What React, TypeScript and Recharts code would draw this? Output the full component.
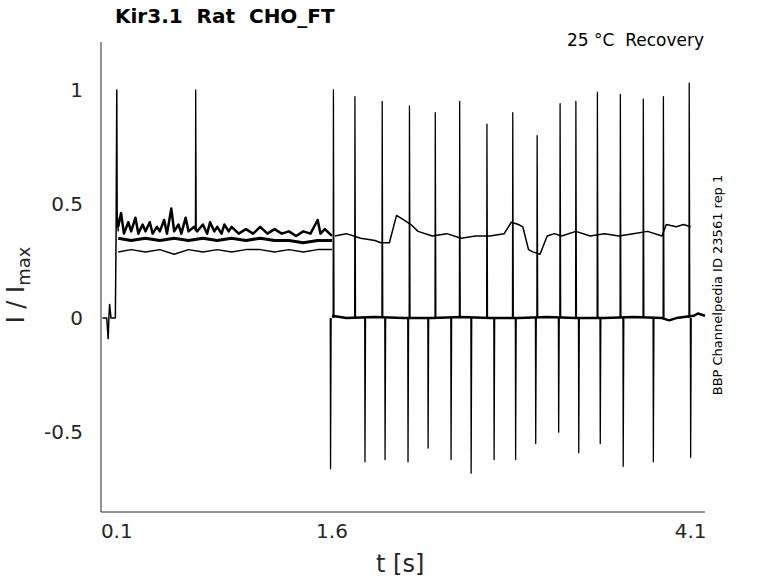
import React from "react";
import { LineChart, Line, XAxis, YAxis } from "recharts";

const xTicks = [0.1, 1.6, 4.1];
const yTicks = [-0.5, 0, 0.5, 1];

const upSpikeT = [0.65, 1.61, 1.76, 1.95, 2.14, 2.32, 2.49, 2.68, 2.86, 3.03, 3.19, 3.30, 3.45, 3.61, 3.77, 3.91, 4.09];
const upSpikeV = [1.0, 1.0, 0.97, 0.95, 0.93, 0.9, 0.95, 0.85, 0.9, 0.8, 0.94, 0.95, 0.99, 0.98, 0.96, 0.97, 1.03];
const upSpikeBase = [0.38, 0, 0, 0, 0, 0, 0, 0, 0, 0, 0, 0, 0, 0, 0, 0, 0];
const downSpikeT = [1.59, 1.83, 1.97, 2.13, 2.27, 2.43, 2.57, 2.73, 2.88, 3.02, 3.18, 3.32, 3.47, 3.63, 3.84, 4.10];
const downSpikeV = [-0.66, -0.63, -0.62, -0.63, -0.57, -0.62, -0.68, -0.62, -0.62, -0.55, -0.5, -0.59, -0.55, -0.65, -0.63, -0.61];
const downSpikeBase = [0, 0, 0, 0, 0, 0, 0, 0, 0, 0, 0, 0, 0, 0, 0, 0];

const startT = [0.0, 0.03, 0.04, 0.045, 0.05, 0.06, 0.09, 0.095, 0.1, 0.103, 0.106, 0.11];
const startV = [0.0, 0.0, -0.09, 0.0, 0.06, 0.0, 0.0, 0.36, 1.0, 0.4, 0.44, 0.38];

const upperT = [0.11, 0.13, 0.15, 0.18, 0.2, 0.23, 0.25, 0.28, 0.3, 0.33, 0.35, 0.38, 0.4, 0.43, 0.45, 0.48, 0.5, 0.53, 0.55, 0.58, 0.6, 0.64, 0.66, 0.7, 0.73, 0.75, 0.78, 0.8, 0.83, 0.85, 0.88, 0.9, 0.95, 1.0, 1.05, 1.1, 1.15, 1.2, 1.25, 1.3, 1.35, 1.4, 1.45, 1.5, 1.52, 1.55, 1.6];
const upperV = [0.4, 0.46, 0.37, 0.42, 0.38, 0.44, 0.37, 0.41, 0.38, 0.42, 0.37, 0.4, 0.38, 0.43, 0.37, 0.48, 0.38, 0.41, 0.37, 0.44, 0.38, 0.4, 0.38, 0.41, 0.37, 0.42, 0.38, 0.4, 0.37, 0.41, 0.38, 0.4, 0.37, 0.39, 0.37, 0.4, 0.37, 0.39, 0.37, 0.38, 0.36, 0.38, 0.37, 0.43, 0.37, 0.39, 0.36];
const midT = [0.11, 0.2, 0.3, 0.4, 0.5, 0.6, 0.7, 0.8, 0.9, 1.0, 1.1, 1.2, 1.3, 1.4, 1.5, 1.6];
const midV = [0.35, 0.34, 0.35, 0.34, 0.35, 0.34, 0.35, 0.34, 0.35, 0.34, 0.35, 0.34, 0.34, 0.33, 0.34, 0.34];
const lowT = [0.11, 0.2, 0.3, 0.4, 0.5, 0.6, 0.7, 0.8, 0.9, 1.0, 1.1, 1.2, 1.3, 1.4, 1.5, 1.6];
const lowV = [0.29, 0.3, 0.29, 0.3, 0.28, 0.3, 0.29, 0.3, 0.29, 0.3, 0.3, 0.29, 0.3, 0.29, 0.3, 0.3];

const postT = [1.62, 1.7, 1.8, 1.9, 1.94, 2.0, 2.05, 2.1, 2.15, 2.2, 2.3, 2.4, 2.5, 2.6, 2.7, 2.8, 2.85, 2.9, 2.93, 2.97, 3.0, 3.05, 3.1, 3.15, 3.2, 3.3, 3.4, 3.5, 3.6, 3.7, 3.8, 3.9, 3.93, 4.0, 4.05, 4.1];
const postV = [0.36, 0.37, 0.35, 0.34, 0.33, 0.33, 0.45, 0.43, 0.41, 0.38, 0.36, 0.37, 0.35, 0.36, 0.36, 0.37, 0.42, 0.41, 0.4, 0.3, 0.29, 0.28, 0.36, 0.37, 0.36, 0.38, 0.36, 0.37, 0.36, 0.37, 0.38, 0.36, 0.41, 0.4, 0.41, 0.4];

const baseT = [1.6, 1.7, 1.9, 2.1, 2.3, 2.5, 2.7, 2.9, 3.1, 3.3, 3.5, 3.7, 3.9, 3.95, 4.0, 4.12, 4.15, 4.2];
const baseV = [0.01, 0.0, 0.005, 0.0, 0.0, 0.005, 0.0, 0.0, 0.005, 0.0, 0.0, 0.005, 0.0, -0.01, 0.0, 0.01, 0.02, 0.01];

function zip(ts: number[], vs: number[]) {
  return ts.map((t, i) => ({ t, v: vs[i] }));
}
function spikes(ts: number[], vs: number[], bs: number[]) {
  const out: { t: number; v: number }[] = [];
  ts.forEach((t, i) => {
    out.push({ t: t - 0.002, v: bs[i] });
    out.push({ t, v: vs[i] });
    out.push({ t: t + 0.004, v: bs[i] });
    out.push({ t: t + 0.005, v: null as any });
  });
  return out;
}

const series = [
  { d: zip(startT, startV), w: 1.5 },
  { d: zip(upperT, upperV), w: 2.5 },
  { d: zip(midT, midV), w: 3 },
  { d: zip(lowT, lowV), w: 1.5 },
  { d: zip(postT, postV), w: 1.5 },
  { d: zip(baseT, baseV), w: 2.5 },
  { d: spikes(upSpikeT, upSpikeV, upSpikeBase), w: 1.3 },
  { d: spikes(downSpikeT, downSpikeV, downSpikeBase), w: 1.3 },
];

const font = "DejaVu Sans, sans-serif";

export default function App() {
  return (
    <div style={{ position: "absolute", left: 0, top: 0, width: 778, height: 583, background: "#fff", fontFamily: font }}>
      <LineChart width={778} height={583} margin={{ top: 42, right: 73, left: 41, bottom: 31 }}>
        <XAxis
          dataKey="t"
          type="number"
          domain={[-0.01, 4.2]}
          ticks={xTicks}
          allowDuplicatedCategory={false}
          tickLine={false}
          height={40}
          stroke="#262626"
          tick={{ fontSize: 20, fill: "#262626", fontFamily: font }}
          tickMargin={6}
        />
        <YAxis
          dataKey="v"
          type="number"
          domain={[-0.85, 1.21]}
          ticks={yTicks}
          tickLine={false}
          width={60}
          stroke="#262626"
          tick={{ fontSize: 20, fill: "#262626", fontFamily: font }}
          tickMargin={12}
        />
        {series.map((s, i) => (
          <Line key={i} data={s.d} dataKey="v" type="linear" stroke="#000" strokeWidth={s.w} strokeLinejoin="round" dot={false} isAnimationActive={false} />
        ))}
      </LineChart>
      <div style={{ position: "absolute", left: 115, top: 4, fontSize: 20, fontWeight: "bold", whiteSpace: "pre", color: "#000" }}>Kir3.1  Rat  CHO_FT</div>
      <div style={{ position: "absolute", right: 74, top: 30, fontSize: 17, whiteSpace: "pre", color: "#000" }}>25 °C  Recovery</div>
      <div style={{ position: "absolute", left: 376, top: 550, fontSize: 24, color: "#262626" }}>t [s]</div>
      <div style={{ position: "absolute", left: 18, top: 285, transform: "translate(-50%,-50%) rotate(-90deg)", fontSize: 24, whiteSpace: "pre", color: "#262626" }}>
        I / I<sub style={{ fontSize: 18 }}>max</sub>
      </div>
      <div style={{ position: "absolute", left: 717, top: 285, transform: "translate(-50%,-50%) rotate(-90deg)", fontSize: 13, whiteSpace: "pre", color: "#000" }}>
        BBP Channelpedia ID 23561 rep 1
      </div>
    </div>
  );
}
